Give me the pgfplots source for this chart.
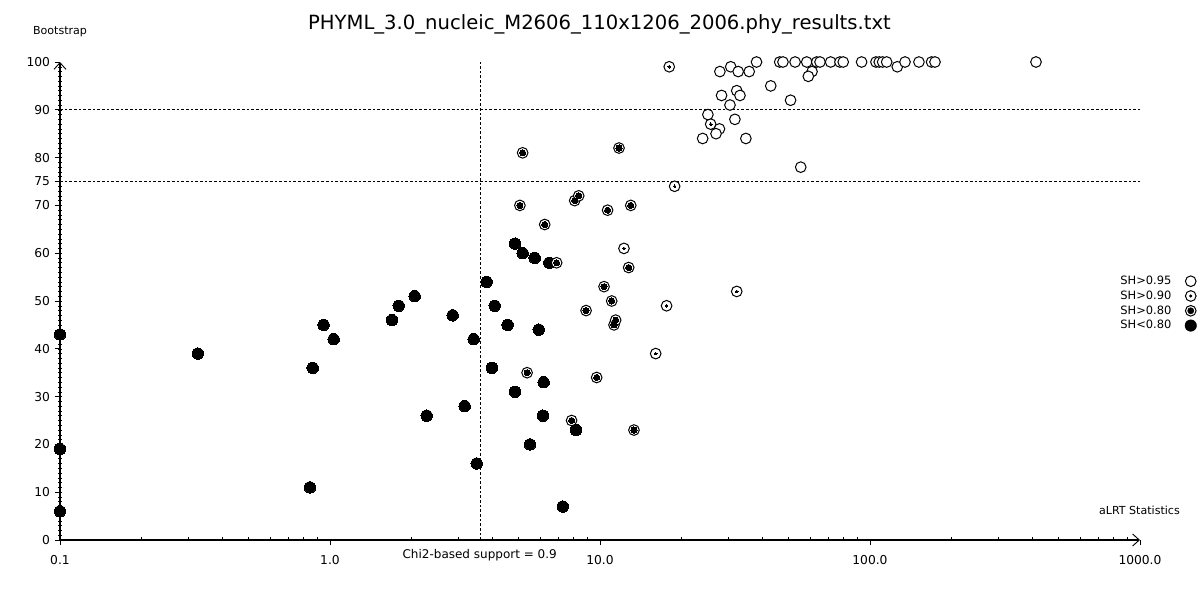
\documentclass[border=0pt]{standalone}
\usepackage{fontspec}
\setmainfont{DejaVu Sans}
\usepackage{pgfplots}
\usepackage{pgfplotstable}
\pgfplotsset{compat=1.18}
\usetikzlibrary{arrows.meta}

% SH<0.80 (filled)
\pgfplotstableread{
x y
0.1 43
0.1 19
0.1 6
0.324 39
0.863 36
0.843 11
0.947 45
1.032 42
1.697 46
1.797 49
2.059 51
2.281 26
2.847 47
3.154 28
3.406 42
3.494 16
3.804 54
3.981 36
4.074 49
4.550 45
4.845 62
4.845 31
5.173 60
5.505 20
5.730 59
5.930 44
6.150 26
6.185 33
6.490 58
7.278 7
8.147 23
}\shlow

% SH>0.80 (ring with large dot)
\pgfplotstableread{
x y
5.17 81
11.76 82
5.05 70
8.06 71
8.34 72
10.67 69
13.0 70
6.24 66
6.91 58
12.77 57
10.35 53
11.05 50
8.88 48
11.27 45
11.43 46
5.37 35
9.72 34
7.85 25
13.36 23
}\sheighty

% SH>0.90 (ring with small dot)
\pgfplotstableread{
x y
18.05 99
18.9 74
25.7 87
12.27 61
32.1 52
17.65 49
16.08 39
}\shninety

% SH>0.95 (open ring)
\pgfplotstableread{
x y
38.0 100
46.3 100
47.6 100
52.8 100
58.3 100
63.5 100
65.3 100
71.5 100
77.4 100
79.6 100
93.1 100
105.2 100
108.2 100
111.4 100
115.3 100
126.2 99
134.8 100
151.8 100
169.1 100
174.1 100
412 100
27.8 98
30.5 99
32.5 98
35.7 98
61.0 98
59.1 97
42.9 95
28.2 93
32.1 94
33.0 93
50.8 92
30.3 91
25.1 89
31.6 88
27.7 86
26.9 85
24.0 84
34.7 84
55.4 78
}\shhigh

\begin{document}
\begin{tikzpicture}
\path[use as bounding box] (-45pt,-45pt) rectangle (855pt,405pt);
\begin{axis}[
  at={(0,0)}, anchor=south west,
  scale only axis, width=810pt, height=358.5pt,
  xmode=log, xmin=0.1, xmax=1000, ymin=0, ymax=100,
  axis x line=bottom, axis y line=left,
  axis line style={line width=0.9pt, black},
  x axis line style={-{Straight Barb[length=5pt,width=9pt,line width=0.7pt]}},
  y axis line style={-{Straight Barb[length=5pt,width=9pt,line width=0.7pt]}},
  xtick={0.1,1,10,100,1000},
  xticklabels={0.1,1.0,10.0,100.0,1000.0},
  minor xtick={0.2,0.3,0.4,0.5,0.6,0.7,0.8,0.9,2,3,4,5,6,7,8,9,20,30,40,50,60,70,80,90,200,300,400,500,600,700,800,900},
  ytick={0,10,20,30,40,50,60,70,75,80,90,100},
  minor ytick={1,2,...,99},
  tick align=outside,
  major tick length=4pt, minor tick length=2.5pt,
  every minor x tick/.append style={yshift=2.5pt},
  every minor y tick/.append style={xshift=1.25pt, line width=0.4pt},
  tick style={black, line width=0.6pt},
  /pgf/number format/assume math mode=true,
  ticklabel style={font=\fontsize{9.2}{11}\selectfont},
  xticklabel style={yshift=-4pt},
  clip=false,
  legend cell align=right,
  legend plot pos=right,
  legend style={at={(rel axis cs:1.0528,0.5585)}, anchor=north east, draw=none, fill=none,
    font=\fontsize{8.6}{10}\selectfont, inner sep=0pt, row sep=-0.8pt, column sep=8pt},
]
\addplot[forget plot, black, line width=0.6pt, dash pattern=on 2pt off 1.5pt] coordinates {(0.1,90) (1000,90)};
\addplot[forget plot, black, line width=0.6pt, dash pattern=on 2pt off 1.5pt] coordinates {(0.1,75) (1000,75)};
\addplot[forget plot, black, line width=0.6pt, dash pattern=on 2pt off 1.5pt] coordinates {(3.61,0) (3.61,100)};

\addplot[forget plot, only marks, mark=*, mark size=4.3pt, mark options={fill=black, draw=black, line width=0pt}] table {\shlow};
\addplot[forget plot, only marks, mark=*, mark size=4.0pt, mark options={fill=white, draw=black, line width=0.75pt}] table {\sheighty};
\addplot[forget plot, only marks, mark=*, mark size=2.3pt, mark options={fill=black, draw=black, line width=0pt}] table {\sheighty};
\addplot[forget plot, only marks, mark=*, mark size=4.0pt, mark options={fill=white, draw=black, line width=0.75pt}] table {\shninety};
\addplot[forget plot, only marks, mark=*, mark size=1.0pt, mark options={fill=black, draw=black, line width=0pt}] table {\shninety};
\addplot[forget plot, only marks, mark=*, mark size=4.0pt, mark options={fill=white, draw=black, line width=0.75pt}] table {\shhigh};

\addlegendimage{legend image code/.code={\draw[fill=white,line width=0.75pt] (0.3cm,0pt) circle (4pt);}}
\addlegendentry{SH>0.95}
\addlegendimage{legend image code/.code={\draw[fill=white,line width=0.75pt] (0.3cm,0pt) circle (4pt); \fill (0.3cm,0pt) circle (1pt);}}
\addlegendentry{SH>0.90}
\addlegendimage{legend image code/.code={\draw[fill=white,line width=0.75pt] (0.3cm,0pt) circle (4pt); \fill (0.3cm,0pt) circle (2.3pt);}}
\addlegendentry{SH>0.80}
\addlegendimage{legend image code/.code={\fill (0.3cm,0pt) circle (4.3pt);}}
\addlegendentry{SH<0.80}

\node[anchor=base, font=\fontsize{14.7}{17}\selectfont] at (rel axis cs:0.4995,1.067) {PHYML\_3.0\_nucleic\_M2606\_110x1206\_2006.phy\_results.txt};
\node[anchor=base, font=\fontsize{8.3}{10}\selectfont] at (rel axis cs:0,1.0565) {Bootstrap};
\node[anchor=base, font=\fontsize{8.3}{10}\selectfont] at (rel axis cs:0.9995,0.0523) {aLRT Statistics};
\node[anchor=base, font=\fontsize{9}{11}\selectfont] at (rel axis cs:0.3886,-0.0397) {Chi2-based support = 0.9};
\end{axis}
\end{tikzpicture}
\end{document}
